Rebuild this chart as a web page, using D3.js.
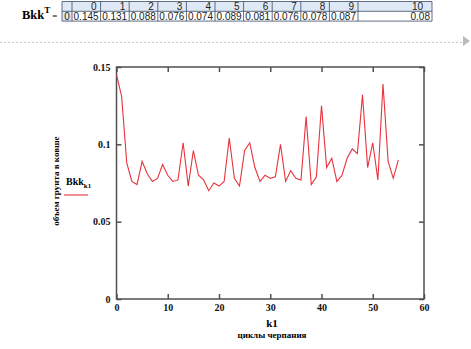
<!DOCTYPE html>
<html>
<head>
<meta charset="utf-8">
<script src="https://cdn.jsdelivr.net/npm/d3@7"></script>
<style>
  html, body { margin: 0; padding: 0; background: #fff; }
  svg { display: block; }
</style>
</head>
<body>
<svg id="chart" width="471" height="349"></svg>
<script>
// Bucket volume per dredging cycle, k1 = 0..55
const cycles = d3.range(0, 56);
const bkk = [
  0.145, 0.131, 0.088, 0.076, 0.074, 0.089, 0.081, 0.076, 0.078, 0.087,
  0.080, 0.076, 0.077, 0.101, 0.073, 0.096, 0.080, 0.077, 0.070, 0.075,
  0.073, 0.076, 0.104, 0.078, 0.073, 0.096, 0.101, 0.085, 0.076, 0.080,
  0.078, 0.079, 0.100, 0.076, 0.083, 0.078, 0.077, 0.118, 0.074, 0.079,
  0.125, 0.085, 0.091, 0.076, 0.080, 0.091, 0.097, 0.094, 0.132, 0.085,
  0.101, 0.077, 0.139, 0.089, 0.078, 0.090
];
// First eleven entries shown in the transposed table
const tableHeader = d3.range(0, 11);
const tableValues = ["0.145", "0.131", "0.088", "0.076", "0.074", "0.089",
                     "0.081", "0.076", "0.078", "0.087", "0.08"];
const xTicks = [0, 10, 20, 30, 40, 50, 60];
const yTicks = [0, 0.05, 0.1, 0.15];
const yTickLabels = ["0", "0.05", "0.1", "0.15"];

const svg = d3.select("#chart");
const serif = "'Liberation Serif', 'Times New Roman', serif";
const sans = "'Liberation Sans', Arial, sans-serif";

// ---- table of Bkk^T ----
const tbl = svg.append("g");
const title = tbl.append("text")
  .attr("x", 22).attr("y", 19)
  .attr("font-family", serif).attr("font-weight", "bold").attr("font-size", 12.5);
title.append("tspan").text("Bkk");
title.append("tspan").attr("font-size", 9).attr("dy", -6).text("T");
title.append("tspan").attr("font-size", 9).attr("dy", 6).attr("dx", 2).text("=");

// index column, ten equal value columns, and a stretched last column
const cellW = 28.6;
const colEdges = [62, 72].concat(d3.range(1, 11).map(i => 72 + i * cellW), [432]);
const rowTop = 1.5, rowH = 9.8;
const gridColor = "#3a4a66";
tbl.append("rect")
  .attr("x", colEdges[0]).attr("y", rowTop)
  .attr("width", colEdges[colEdges.length - 1] - colEdges[0]).attr("height", rowH)
  .attr("fill", "#dfe9f5");
tbl.append("rect")
  .attr("x", colEdges[0]).attr("y", rowTop + rowH)
  .attr("width", colEdges[1] - colEdges[0]).attr("height", rowH)
  .attr("fill", "#dfe9f5");
tbl.selectAll("line.v").data(colEdges).join("line")
  .attr("x1", d => d).attr("x2", d => d)
  .attr("y1", rowTop).attr("y2", rowTop + 2 * rowH)
  .attr("stroke", gridColor).attr("stroke-width", 0.8);
[0, 1, 2].forEach(i => {
  tbl.append("line")
    .attr("x1", colEdges[0]).attr("x2", colEdges[colEdges.length - 1])
    .attr("y1", rowTop + i * rowH).attr("y2", rowTop + i * rowH)
    .attr("stroke", gridColor).attr("stroke-width", 0.8);
});
tbl.selectAll("text.h").data(tableHeader).join("text")
  .attr("x", (d, i) => colEdges[i + 2] - (i === tableHeader.length - 1 ? 9 : 4))
  .attr("y", rowTop + rowH - 1.6)
  .attr("text-anchor", "end")
  .attr("font-family", sans).attr("font-size", 10).attr("fill", "#222")
  .text(d => d);
tbl.selectAll("text.v").data(tableValues).join("text")
  .attr("x", (d, i) => colEdges[i + 2] - 2)
  .attr("y", rowTop + 2 * rowH - 1.6)
  .attr("text-anchor", "end")
  .attr("font-family", sans).attr("font-size", 10).attr("fill", "#222")
  .text(d => d);
tbl.append("text")
  .attr("x", (colEdges[0] + colEdges[1]) / 2).attr("y", rowTop + 2 * rowH - 1.6)
  .attr("text-anchor", "middle")
  .attr("font-family", sans).attr("font-size", 10).attr("fill", "#222")
  .text("0");

// region separator and marker
svg.append("line")
  .attr("x1", 0).attr("x2", 462).attr("y1", 42.5).attr("y2", 42.5)
  .attr("stroke", "#c8c8c8").attr("stroke-dasharray", "2,2");
svg.append("path")
  .attr("d", "M463,36 L470,41 L463,46 Z")
  .attr("fill", "#bbb");

// ---- plot ----
const plot = { left: 116.5, right: 424, top: 67, bottom: 299 };
const x = d3.scaleLinear().domain([0, 60]).range([plot.left, plot.right]);
const y = d3.scaleLinear().domain([0, 0.15]).range([plot.bottom, plot.top]);

const axisColor = "#505050";
const tickLen = 5;

svg.append("rect")
  .attr("x", plot.left).attr("y", plot.top)
  .attr("width", plot.right - plot.left).attr("height", plot.bottom - plot.top)
  .attr("fill", "none").attr("stroke", axisColor).attr("stroke-width", 1.5);

// inward ticks on all four sides
const gxb = svg.append("g").attr("transform", `translate(0,${plot.bottom})`)
  .call(d3.axisBottom(x).tickValues(xTicks).tickSize(-tickLen).tickFormat(d => d));
const gxt = svg.append("g").attr("transform", `translate(0,${plot.top})`)
  .call(d3.axisTop(x).tickValues(xTicks).tickSize(-tickLen).tickFormat(""));
const gyl = svg.append("g").attr("transform", `translate(${plot.left},0)`)
  .call(d3.axisLeft(y).tickValues(yTicks).tickSize(-tickLen).tickFormat((d, i) => yTickLabels[i]));
const gyr = svg.append("g").attr("transform", `translate(${plot.right},0)`)
  .call(d3.axisRight(y).tickValues(yTicks).tickSize(-tickLen).tickFormat(""));

[gxb, gxt, gyl, gyr].forEach(g => {
  g.select(".domain").remove();
  g.selectAll(".tick line").attr("stroke", axisColor).attr("stroke-width", 1.5);
  g.selectAll(".tick text")
    .attr("font-family", serif).attr("font-weight", "bold")
    .attr("font-size", 10).attr("fill", "#111");
});
gxb.selectAll(".tick text").attr("dy", "0.9em").attr("y", 3);
gyl.selectAll(".tick text").attr("x", -6);

// data line
const line = d3.line().x((d, i) => x(cycles[i])).y(d => y(d));
svg.append("path")
  .datum(bkk)
  .attr("d", line)
  .attr("fill", "none")
  .attr("stroke", "#e8323c")
  .attr("stroke-width", 1.1);

// axis titles
svg.append("text")
  .attr("x", 272).attr("y", 327)
  .attr("text-anchor", "middle")
  .attr("font-family", serif).attr("font-weight", "bold").attr("font-size", 11)
  .text("k1");
svg.append("text")
  .attr("x", 272).attr("y", 338)
  .attr("text-anchor", "middle")
  .attr("font-family", serif).attr("font-weight", "bold").attr("font-size", 9)
  .text("циклы черпания");
svg.append("text")
  .attr("transform", "translate(59,181) rotate(-90)")
  .attr("text-anchor", "middle")
  .attr("font-family", serif).attr("font-weight", "bold").attr("font-size", 9)
  .text("объем грунта в ковше");

// legend
const lg = svg.append("text")
  .attr("x", 66).attr("y", 185)
  .attr("font-family", serif).attr("font-weight", "bold").attr("font-size", 10);
lg.append("tspan").text("Bkk");
lg.append("tspan").attr("font-size", 7).attr("dy", 3).text("k1");
svg.append("line")
  .attr("x1", 64).attr("x2", 88).attr("y1", 195).attr("y2", 195)
  .attr("stroke", "#e8323c").attr("stroke-width", 1.1);
</script>
</body>
</html>
